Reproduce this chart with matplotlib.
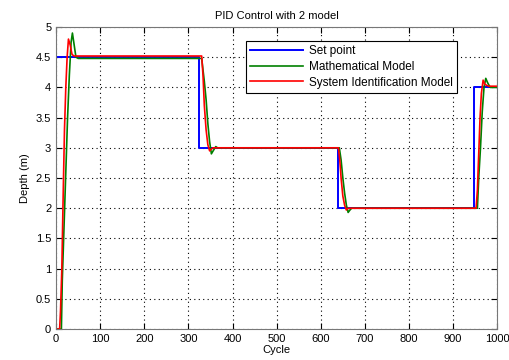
import matplotlib
matplotlib.use("Agg")
import matplotlib.pyplot as plt

plt.rcParams['font.family'] = ['Liberation Sans', 'DejaVu Sans']

# Set point
sp_x = [0, 0, 325, 325, 638, 638, 948, 948, 1000]
sp_y = [0, 4.5, 4.5, 3.0, 3.0, 2.0, 2.0, 4.0, 4.0]

# Mathematical model
mm_x = [0, 12, 14, 18, 22, 26, 30, 34, 37, 41, 45, 50, 330,
        336, 340, 344, 348, 352, 356, 362, 366,
        640, 642, 646, 650, 654, 658, 662, 666, 670,
        952, 955, 958, 962, 966, 970, 974, 978, 984, 1000]
mm_y = [0, 0, 0.8, 1.7, 2.6, 3.5, 4.2, 4.75, 4.9, 4.7, 4.5, 4.48, 4.48,
        4.1, 3.8, 3.4, 3.1, 2.9, 2.95, 3.02, 3.0,
        3.0, 3.0, 2.8, 2.5, 2.25, 2.05, 1.93, 1.97, 2.0,
        2.0, 2.0, 2.5, 3.0, 3.6, 4.0, 4.15, 4.08, 4.0, 4.0]

# System identification model
si_x = [0, 8, 10, 13, 16, 19, 22, 25, 28, 32, 36, 40, 330,
        333, 336, 340, 344, 348, 352, 356,
        640, 643, 646, 650, 654, 658, 662,
        952, 955, 958, 961, 964, 968, 972, 980, 1000]
si_y = [0, 0, 0.3, 1.0, 2.2, 3.3, 4.0, 4.5, 4.8, 4.7, 4.55, 4.52, 4.52,
        4.2, 3.7, 3.3, 3.05, 2.95, 2.98, 3.0,
        3.0, 2.8, 2.5, 2.2, 2.05, 1.97, 2.0,
        2.0, 2.3, 2.9, 3.5, 3.9, 4.12, 4.05, 4.02, 4.02]

fig = plt.figure(figsize=(5.1, 3.6), dpi=100)
ax = fig.add_axes([0.11, 0.086, 0.865, 0.839])

ax.plot(sp_x, sp_y, color='#0000ff', lw=1.4, label='Set point')
ax.plot(mm_x, mm_y, color='#008000', lw=1.2, label='Mathematical Model')
ax.plot(si_x, si_y, color='#ff0000', lw=1.2, label='System Identification Model')

ax.set_xlim(0, 1000)
ax.set_ylim(0, 5)
ax.set_xticks(range(0, 1001, 100))
ax.set_yticks([0, 0.5, 1, 1.5, 2, 2.5, 3, 3.5, 4, 4.5, 5])
ax.set_yticklabels(['0', '0.5', '1', '1.5', '2', '2.5', '3', '3.5', '4', '4.5', '5'])
ax.tick_params(direction='in', top=True, right=True, labelsize=8, length=4)
ax.grid(True, linestyle=(0, (1, 3)), color='black', lw=0.8)
for s in ax.spines.values():
    s.set_color('#777777')

ax.set_title('PID Control with 2 model', fontsize=8)
ax.set_xlabel('Cycle', fontsize=8, labelpad=1)
ax.set_ylabel('Depth (m)', fontsize=8)

leg = ax.legend(loc='upper right', bbox_to_anchor=(0.923, 0.972), fontsize=8.5,
                fancybox=False, edgecolor='black', framealpha=1,
                handlelength=4.5, handletextpad=0.5, borderpad=0.35,
                labelspacing=0.3)
leg.get_frame().set_linewidth(0.8)

fig.savefig('out.png', dpi=100)
